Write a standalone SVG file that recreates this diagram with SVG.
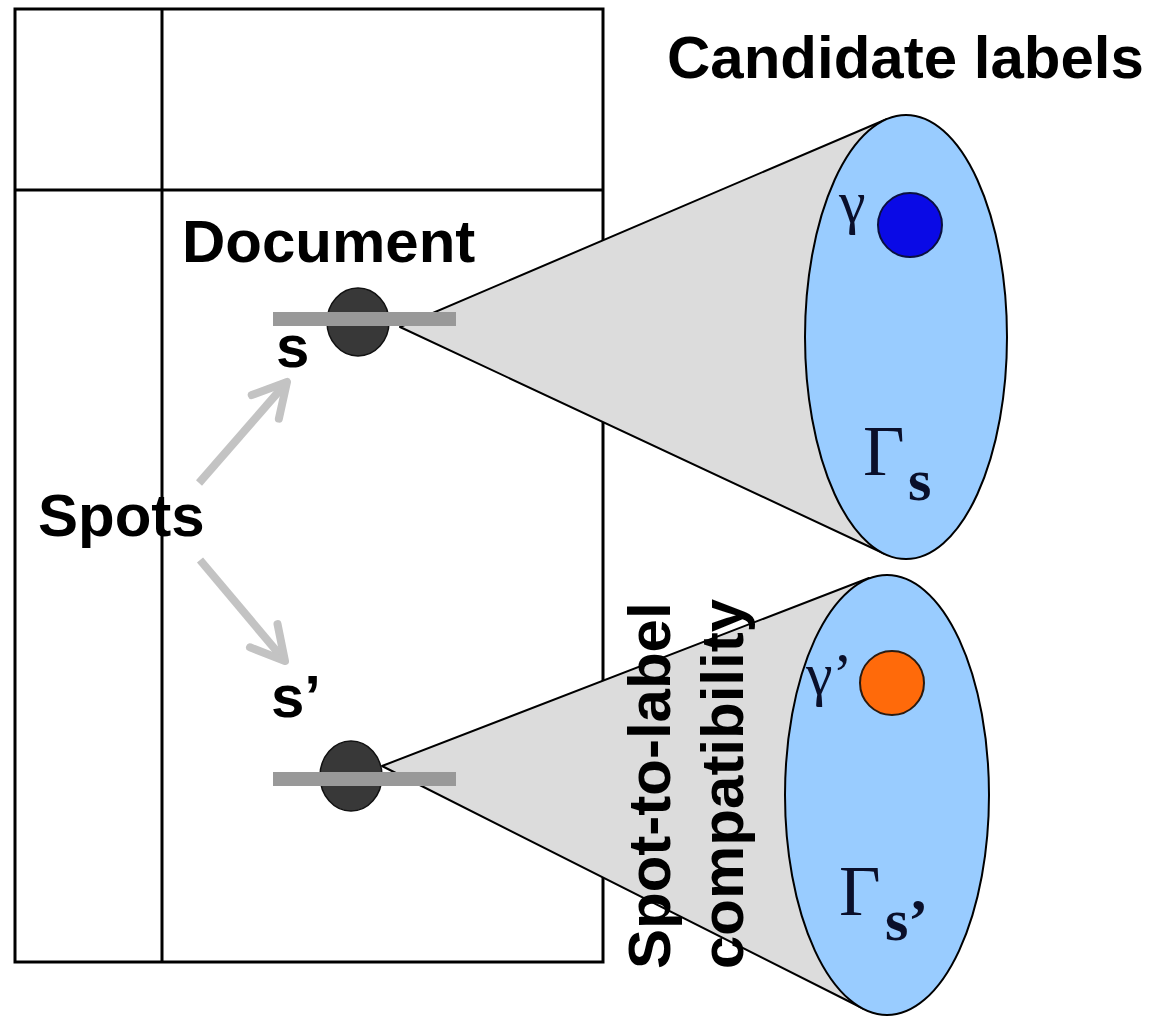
<svg xmlns="http://www.w3.org/2000/svg" width="1154" height="1016" viewBox="0 0 1154 1016">
<style>
.doc{fill:none;stroke:#000;stroke-width:3}
.cone{fill:#dcdcdc;stroke:#000;stroke-width:2;stroke-linejoin:round}
.set{fill:#99ccff;stroke:#000;stroke-width:2}
.spot{fill:#383838;stroke:#111;stroke-width:1.5}
.bar{fill:#999}
.lbl{font-family:"Liberation Sans",Arial,sans-serif;font-weight:bold;font-size:60px;fill:#000}
.gr{font-family:"Liberation Serif","Times New Roman",serif;fill:#0a0f2a}
.arr{stroke:#c3c3c3;stroke-width:8;fill:none}
</style>
<defs>
<marker id="ah" markerUnits="userSpaceOnUse" viewBox="-50 -30 60 60" markerWidth="60" markerHeight="60" refX="0" refY="0" orient="auto" overflow="visible">
<path d="M-33,-18 L0,0 L-33,18" fill="none" stroke="#c3c3c3" stroke-width="8" stroke-linejoin="round" stroke-linecap="round"/>
</marker>
</defs>
<rect width="1154" height="1016" fill="#fff"/>
<g id="document">
<rect class="doc" x="15" y="9" width="588" height="953"/>
<line class="doc" x1="162" y1="9" x2="162" y2="962"/>
<line class="doc" x1="15" y1="190" x2="603" y2="190"/>
<text class="lbl" x="182" y="262">Document</text>
</g>
<g id="cone-s">
<polygon class="cone" points="400,327 887,119 885,554"/>
<ellipse class="set" cx="906" cy="337" rx="101" ry="222"/>
<circle cx="910" cy="225" r="32" fill="#0a0ae6" stroke="#0a1040" stroke-width="2"/>
<text class="gr" x="839" y="222" font-size="60">γ</text>
<text class="gr" x="863" y="475" font-size="72">Γ</text>
<text class="gr" x="908" y="500" font-size="60" font-weight="bold" fill="#1a2a5a">s</text>
<ellipse class="spot" cx="358" cy="322" rx="31" ry="34"/>
<rect class="bar" x="273" y="312" width="183" height="14"/>
<text class="lbl" x="276" y="367">s</text>
</g>
<g id="cone-s2">
<polygon class="cone" points="382,766 869,578 864,1009"/>
<ellipse class="set" cx="887" cy="795" rx="102" ry="220"/>
<circle cx="892" cy="683" r="32" fill="#ff6a0a" stroke="#2a1a10" stroke-width="2"/>
<text class="gr" x="806" y="694" font-size="60">γ’</text>
<text class="gr" x="839" y="915" font-size="72">Γ</text>
<text class="gr" x="885" y="940" font-size="60" font-weight="bold" fill="#1a2a5a">s’</text>
<ellipse class="spot" cx="351" cy="776" rx="31" ry="35"/>
<rect class="bar" x="273" y="772" width="183" height="14"/>
<text class="lbl" x="271" y="717">s’</text>
</g>
<g id="spots">
<text class="lbl" x="38" y="536">Spots</text>
</g>
<g id="candidate-labels">
<text class="lbl" x="667" y="78">Candidate labels</text>
</g>
<g id="compatibility" transform="translate(670,969) rotate(-90)">
<text class="lbl" x="0" y="0" font-size="61">Spot-to-label</text>
<text class="lbl" x="0" y="73" font-size="61">compatibility</text>
</g>
<g id="connectors">
<line class="arr" x1="199" y1="483" x2="287" y2="382" marker-end="url(#ah)"/>
<line class="arr" x1="200" y1="560" x2="285" y2="661" marker-end="url(#ah)"/>
</g>
</svg>
